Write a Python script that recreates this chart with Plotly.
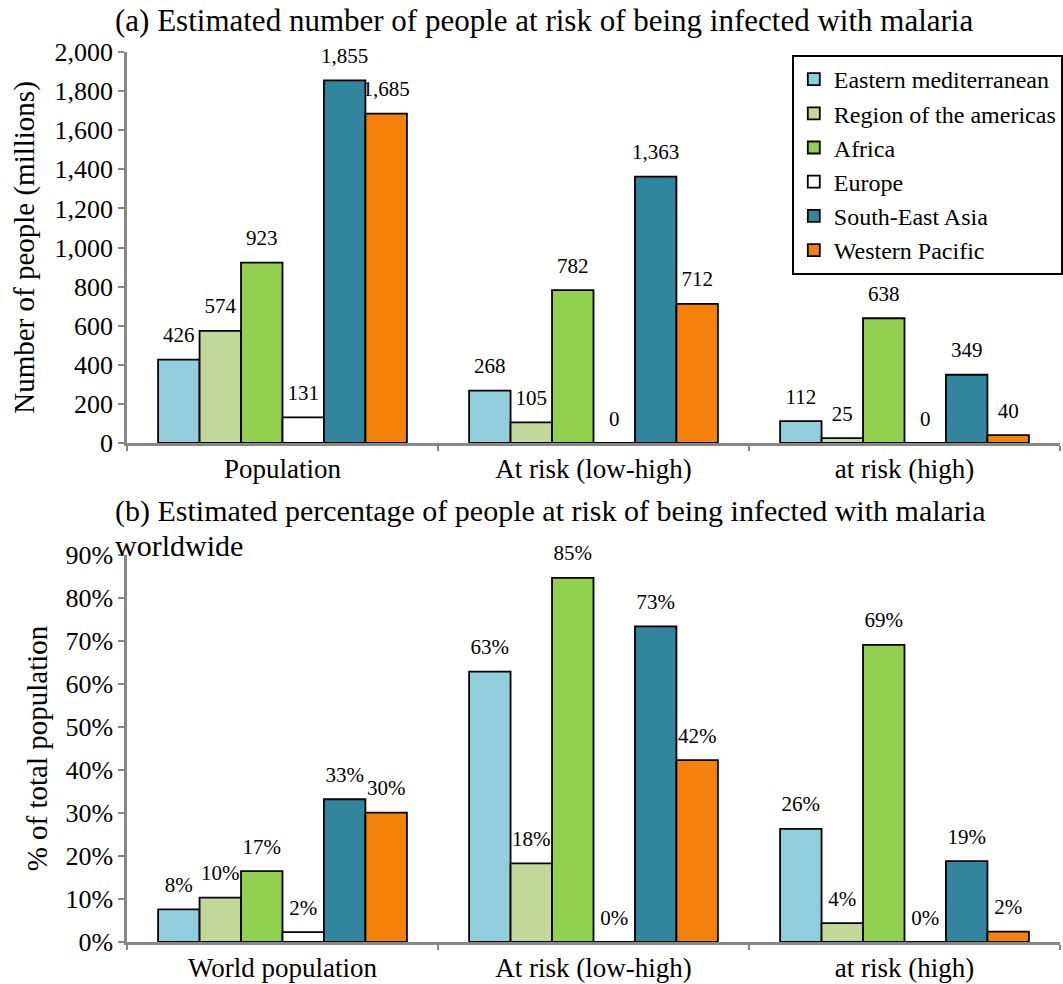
import plotly.graph_objects as go
from plotly.subplots import make_subplots

regions = ["Eastern mediterranean", "Region of the americas", "Africa", "Europe",
           "South-East Asia", "Western Pacific"]
colors = ["#92CDDC", "#C4D79B", "#92D050", "#FFFFFF", "#31859C", "#F4810A"]

cats_a = ["Population", "At risk (low-high)", "at risk (high)"]
cats_b = ["World population", "At risk (low-high)", "at risk (high)"]

# millions of people, per region: [population, at risk low-high, at risk high]
counts = {
    "Eastern mediterranean": [426, 268, 112],
    "Region of the americas": [574, 105, 25],
    "Africa": [923, 782, 638],
    "Europe": [131, 0, 0],
    "South-East Asia": [1855, 1363, 349],
    "Western Pacific": [1685, 712, 40],
}
# percent, per region: [share of world population, at risk low-high, at risk high]
percents = {
    "Eastern mediterranean": [7.6, 62.9, 26.3],
    "Region of the americas": [10.3, 18.3, 4.4],
    "Africa": [16.5, 84.7, 69.1],
    "Europe": [2.3, 0.0, 0.0],
    "South-East Asia": [33.2, 73.4, 18.8],
    "Western Pacific": [30.1, 42.3, 2.4],
}

FONT = "Liberation Serif"
LBL = dict(family=FONT, size=21, color="black")

W, H, T, B, L, R = 1063, 984, 52, 42, 127, 3
PH = H - T - B


def py(px):
    """paper y for a pixel row"""
    return (H - B - px) / PH


fig = make_subplots(rows=2, cols=1)


def add_series(row, cats, data, fmt, scale, legend):
    for i, (name, col) in enumerate(zip(regions, colors)):
        vals = [v * scale for v in data[name]]
        fig.add_trace(go.Bar(
            x=cats, y=vals, name=name, legendgroup=name, showlegend=legend,
            offsetgroup=str(i), alignmentgroup="g%d" % row,
            marker=dict(color=col, line=dict(color="#000000", width=1.8)),
        ), row=row, col=1)
    for i, name in enumerate(regions):
        vals = data[name]
        fig.add_trace(go.Scatter(
            x=cats, y=[v * scale for v in vals], mode="markers+text",
            offsetgroup=str(i), alignmentgroup="g%d" % row,
            marker=dict(size=18, opacity=0), showlegend=False, hoverinfo="skip",
            text=[fmt(v) for v in vals], textposition="top center",
            textfont=LBL, cliponaxis=False,
        ), row=row, col=1)


add_series(1, cats_a, counts, lambda v: f"{v:,}", 1, True)
add_series(2, cats_b, percents, lambda v: f"{int(v + 0.5)}%", 0.01, False)

axis_common = dict(showline=True, linecolor="#878787", linewidth=2.5,
                   ticks="outside", tickcolor="#878787", ticklen=6, tickwidth=2,
                   showgrid=False, zeroline=False, automargin=False,
                   tickfont=dict(family=FONT, size=26, color="black"))

fig.update_xaxes(**axis_common)
fig.update_xaxes(tickson="boundaries", domain=[0, 1], ticklen=5,
                 tickfont=dict(family=FONT, size=27, color="black"))
fig.update_yaxes(**axis_common)

TITLE_FONT = dict(family=FONT, size=29, color="black")
fig.update_yaxes(range=[0, 2000], dtick=200, tickformat=",",
                 title=dict(text="Number of people (millions)", font=TITLE_FONT, standoff=12),
                 domain=[py(443), 1.0], row=1, col=1)
fig.update_yaxes(range=[0, 0.9], dtick=0.1, tickformat=".0%",
                 title=dict(text="% of total population", font=TITLE_FONT, standoff=10),
                 domain=[0.0, py(555)], row=2, col=1)

fig.update_layout(
    width=W, height=H,
    margin=dict(l=L, r=R, t=T, b=B, autoexpand=False),
    paper_bgcolor="white", plot_bgcolor="white",
    barmode="group", bargap=0.2, bargroupgap=0,
    scattermode="group", scattergap=0.2,
    font=dict(family=FONT, color="black"),
    legend=dict(x=1.003, xanchor="right", y=py(55), yanchor="top",
                bordercolor="black", borderwidth=2, bgcolor="white",
                font=dict(family=FONT, size=24, color="black"),
                tracegroupgap=0, itemwidth=30),
    showlegend=True,
    annotations=[
        dict(text="(a) Estimated number of people at risk of being infected with malaria",
             xref="paper", yref="paper", x=-0.015, y=py(20), xanchor="left",
             yanchor="middle", showarrow=False, font=dict(family=FONT, size=31, color="black")),
        dict(text="(b) Estimated percentage of people at risk of being infected with malaria",
             xref="paper", yref="paper", x=-0.015, y=py(511), xanchor="left",
             yanchor="middle", showarrow=False, font=dict(family=FONT, size=30, color="black")),
        dict(text="worldwide",
             xref="paper", yref="paper", x=-0.015, y=py(545), xanchor="left",
             yanchor="middle", showarrow=False, font=dict(family=FONT, size=30, color="black")),
    ],
)

fig.write_html("out.html", config={"displayModeBar": False},
               post_script="document.body.style.margin='0';")
